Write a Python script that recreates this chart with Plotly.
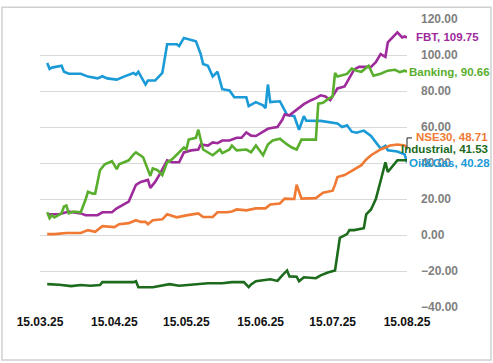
import plotly.graph_objects as go

# ---------------- data ----------------
oil_dates = ["2025-03-18","2025-03-19","2025-03-20","2025-03-24","2025-03-25","2025-03-27","2025-04-01","2025-04-04",
             "2025-04-08","2025-04-10","2025-04-12","2025-04-16","2025-04-19","2025-04-23","2025-04-24","2025-04-25",
             "2025-04-28","2025-04-29","2025-05-02","2025-05-05","2025-05-07","2025-05-11","2025-05-12","2025-05-14",
             "2025-05-19","2025-05-21","2025-05-22","2025-05-24","2025-05-26","2025-05-28","2025-05-30","2025-06-02",
             "2025-06-04","2025-06-09","2025-06-10","2025-06-13","2025-06-16","2025-06-17","2025-06-18","2025-06-19",
             "2025-06-23","2025-06-24","2025-06-26","2025-06-29","2025-07-01","2025-07-03","2025-07-04","2025-07-10",
             "2025-07-17","2025-07-19","2025-07-21","2025-07-23","2025-07-25","2025-07-28","2025-07-31","2025-08-04",
             "2025-08-06","2025-08-07","2025-08-11","2025-08-14","2025-08-15"]
oil_vals = [95.6, 92.3, 93.0, 94.0, 90.7, 89.6, 89.6, 88.0,
            87.0, 88.2, 87.0, 86.3, 88.0, 90.0, 89.0, 90.7,
            83.6, 85.8, 85.8, 90.0, 106.0, 106.0, 105.0, 109.5,
            107.6, 100.5, 95.0, 94.0, 88.0, 90.7, 81.0, 80.3,
            76.5, 76.5, 71.6, 73.8, 72.0, 70.5, 83.6, 73.8,
            74.3, 71.6, 66.7, 66.0, 58.5, 66.0, 63.5, 63.4,
            62.0, 60.0, 61.0, 57.4, 56.8, 58.0, 55.0, 48.0,
            49.5, 47.0, 46.4, 44.8, 40.28]

fbt_dates = ["2025-03-18","2025-03-23","2025-03-27","2025-04-01","2025-04-03","2025-04-08","2025-04-10","2025-04-14",
             "2025-04-16","2025-04-21","2025-04-24","2025-04-26","2025-04-29","2025-04-30","2025-05-02","2025-05-04",
             "2025-05-07","2025-05-09","2025-05-12","2025-05-14","2025-05-17","2025-05-20","2025-05-21","2025-05-24",
             "2025-05-26","2025-05-28","2025-05-30","2025-06-02","2025-06-05","2025-06-07","2025-06-09","2025-06-11",
             "2025-06-13","2025-06-16","2025-06-18","2025-06-20","2025-06-22","2025-06-24","2025-06-25","2025-06-27",
             "2025-06-30","2025-07-03","2025-07-06","2025-07-08","2025-07-10","2025-07-12","2025-07-14","2025-07-17",
             "2025-07-20","2025-07-22","2025-07-24","2025-07-26","2025-07-31","2025-08-02","2025-08-04","2025-08-06",
             "2025-08-07","2025-08-11","2025-08-13","2025-08-14","2025-08-15"]
fbt_vals = [11.5, 11.5, 13.0, 12.0, 11.0, 11.0, 12.6, 12.6,
            14.8, 18.6, 27.9, 29.5, 30.6, 26.2, 29.5, 33.9,
            41.5, 40.4, 40.4, 45.9, 47.0, 47.5, 50.3, 49.7,
            51.4, 51.0, 52.5, 52.5, 54.0, 54.0, 57.0, 55.2,
            55.0, 57.5, 59.0, 59.6, 60.0, 64.0, 67.0, 66.5,
            69.4, 72.7, 74.9, 76.0, 77.6, 77.0, 74.9, 81.4,
            82.5, 86.9, 92.0, 93.4, 93.4, 96.0, 100.5, 98.9,
            107.0, 112.6, 109.8, 110.3, 109.75]

bank_dates = ["2025-03-18","2025-03-19","2025-03-20","2025-03-21","2025-03-24","2025-03-25","2025-03-26","2025-03-27",
              "2025-03-29","2025-04-01","2025-04-03","2025-04-04","2025-04-06","2025-04-07","2025-04-09","2025-04-11",
              "2025-04-14","2025-04-16","2025-04-17","2025-04-21","2025-04-23","2025-04-24","2025-04-27","2025-04-30",
              "2025-05-01","2025-05-03","2025-05-05","2025-05-07","2025-05-09","2025-05-11","2025-05-12","2025-05-14",
              "2025-05-15","2025-05-16","2025-05-19","2025-05-20","2025-05-22","2025-05-24","2025-05-26","2025-05-29",
              "2025-05-30","2025-06-02","2025-06-03","2025-06-05","2025-06-09","2025-06-11","2025-06-13","2025-06-16",
              "2025-06-18","2025-06-20","2025-06-23","2025-06-26","2025-06-28","2025-06-30","2025-07-02","2025-07-06",
              "2025-07-08","2025-07-09","2025-07-11","2025-07-13","2025-07-15","2025-07-16","2025-07-17","2025-07-21",
              "2025-07-23","2025-07-25","2025-07-27","2025-07-30","2025-08-01","2025-08-04","2025-08-07","2025-08-10",
              "2025-08-12","2025-08-14","2025-08-15"]
bank_vals = [12.6, 9.3, 11.0, 9.8, 12.0, 15.8, 16.4, 12.0,
             13.0, 12.6, 19.7, 24.0, 23.0, 23.0, 36.0, 39.3,
             41.0, 36.6, 39.3, 41.5, 44.8, 45.9, 43.2, 32.8,
             37.0, 36.0, 33.3, 40.4, 42.0, 44.8, 45.9, 48.6,
             47.5, 53.0, 54.0, 58.5, 47.5, 45.9, 44.3, 47.5,
             45.5, 47.5, 49.7, 47.0, 47.5, 46.0, 49.7, 44.3,
             50.3, 52.5, 53.5, 50.3, 48.6, 47.5, 53.0, 53.0,
             53.0, 73.0, 73.5, 75.5, 77.0, 90.0, 88.0, 89.5,
             92.5, 91.3, 90.7, 94.0, 88.5, 89.6, 91.3, 91.8,
             90.5, 91.3, 90.66]

nse_dates = ["2025-03-18","2025-03-21","2025-03-26","2025-04-01","2025-04-04","2025-04-07","2025-04-10","2025-04-15",
             "2025-04-17","2025-04-21","2025-04-24","2025-04-26","2025-04-28","2025-04-29","2025-05-01","2025-05-05",
             "2025-05-07","2025-05-11","2025-05-15","2025-05-20","2025-05-22","2025-05-26","2025-05-28","2025-06-01",
             "2025-06-03","2025-06-05","2025-06-09","2025-06-11","2025-06-13","2025-06-17","2025-06-19","2025-06-23",
             "2025-06-25","2025-06-29","2025-06-30","2025-07-02","2025-07-08","2025-07-11","2025-07-15","2025-07-16",
             "2025-07-17","2025-07-20","2025-07-22","2025-07-24","2025-07-27","2025-07-29","2025-07-31","2025-08-04",
             "2025-08-08","2025-08-11","2025-08-14","2025-08-15"]
nse_vals = [0.5, 0.5, 1.1, 1.1, 2.7, 1.8, 4.9, 4.4,
            6.0, 6.6, 8.2, 7.3, 7.3, 6.0, 8.2, 8.7,
            11.5, 9.8, 10.9, 12.0, 10.0, 10.0, 12.6, 12.6,
            13.1, 14.2, 13.7, 14.2, 14.8, 14.8, 17.0, 17.5,
            20.2, 20.0, 27.9, 20.2, 20.5, 23.5, 24.6, 28.0,
            32.2, 33.3, 35.0, 36.6, 38.8, 42.0, 44.3, 47.5,
            49.7, 50.3, 49.7, 48.71]

ind_dates = ["2025-03-18","2025-03-23","2025-03-28","2025-04-01","2025-04-05","2025-04-09","2025-04-10","2025-04-14",
             "2025-04-23","2025-04-24","2025-04-25","2025-05-01","2025-05-08","2025-05-12","2025-05-19","2025-05-24",
             "2025-05-30","2025-06-03","2025-06-08","2025-06-10","2025-06-11","2025-06-13","2025-06-19","2025-06-22",
             "2025-06-24","2025-06-26","2025-06-27","2025-06-30","2025-07-01","2025-07-03","2025-07-08","2025-07-10",
             "2025-07-13","2025-07-16","2025-07-18","2025-07-21","2025-07-22","2025-07-24","2025-07-28","2025-07-29",
             "2025-07-31","2025-08-02","2025-08-04","2025-08-06","2025-08-07","2025-08-10","2025-08-11","2025-08-14",
             "2025-08-15"]
ind_vals = [-27.3, -27.6, -28.4, -27.8, -28.2, -27.8, -26.2, -26.2,
            -26.2, -25.7, -29.0, -29.0, -27.3, -28.2, -27.5, -26.8,
            -26.8, -26.2, -26.2, -29.0, -27.5, -25.7, -24.6, -25.5,
            -22.4, -19.7, -23.0, -23.2, -25.7, -23.5, -24.0, -22.4,
            -20.8, -19.7, -1.6, 0.5, 2.7, 2.7, 3.8, 11.5,
            14.2, 20.0, 30.0, 40.4, 35.0, 40.4, 41.5, 41.5,
            41.53]

series = [
    ("Oil&Gas", oil_dates, oil_vals, "#1A9AD6"),
    ("FBT", fbt_dates, fbt_vals, "#9E2A9C"),
    ("Banking", bank_dates, bank_vals, "#5AAE2E"),
    ("NSE30", nse_dates, nse_vals, "#F07A34"),
    ("Industrial", ind_dates, ind_vals, "#1D6B1D"),
]
# nudges (px) of the end labels
label_shift = {"Oil&Gas": 0, "FBT": 0, "Banking": 0, "NSE30": 10, "Industrial": 11}
label_xshift = {"Oil&Gas": 0, "FBT": 7, "Banking": 0, "NSE30": 7, "Industrial": -8}

FONT = "Liberation Sans, Arial, sans-serif"

fig = go.Figure()
for name, d, v, c in series:
    fig.add_trace(go.Scatter(x=d, y=v, mode="lines", name=name,
                             line=dict(color=c, width=2.6), hoverinfo="skip"))
    fig.add_annotation(x=d[-1], y=v[-1], text=f"<b>{name}, {v[-1]:.2f}</b>",
                       showarrow=False, xanchor="left", yanchor="middle",
                       xshift=label_xshift[name], yshift=label_shift[name],
                       font=dict(family=FONT, size=11.5, color=c))

W, H = 493, 363
L, R, T, B = 40, 86, 14, 56
pw, ph = W - L - R, H - T - B

def px(x):
    return (x - L) / pw

def py(y):
    return (H - B - y) / ph

# outer frame
fig.add_shape(type="rect", xref="paper", yref="paper",
              x0=px(2), x1=px(491), y0=py(361), y1=py(2),
              line=dict(color="#D0D0D0", width=1.5), fillcolor="rgba(0,0,0,0)")
# leader line for Industrial label
fig.add_shape(type="path", xref="paper", yref="paper",
              path=f"M {px(407)} {py(147)} L {px(407)} {py(135)} L {px(412)} {py(135)}",
              line=dict(color="#222222", width=1))

fig.update_layout(
    width=W, height=H,
    margin=dict(l=L, r=R, t=T, b=B),
    paper_bgcolor="white", plot_bgcolor="white",
    showlegend=False,
    xaxis=dict(type="date", range=["2025-03-15", "2025-08-15"],
               tick0="2025-03-15", dtick="M1", tickformat="%d.%m.%y",
               showgrid=False, zeroline=False, showline=False,
               ticks="", ticklabelstandoff=6,
               tickfont=dict(family=FONT, size=12, color="#111111", weight="bold")),
    yaxis=dict(range=[-40, 120], dtick=20, tick0=0, tickformat=".2f",
               side="right", showgrid=True, gridcolor="#D9D9D9", gridwidth=1.3,
               zeroline=False, showline=False, ticks="", ticklabelstandoff=13,
               tickfont=dict(family=FONT, size=12, color="#7F7F7F", weight="bold")),
)

fig.write_html("out.html", config={"displayModeBar": False},
               post_script="document.body.style.margin='0';document.body.style.overflow='hidden';")
